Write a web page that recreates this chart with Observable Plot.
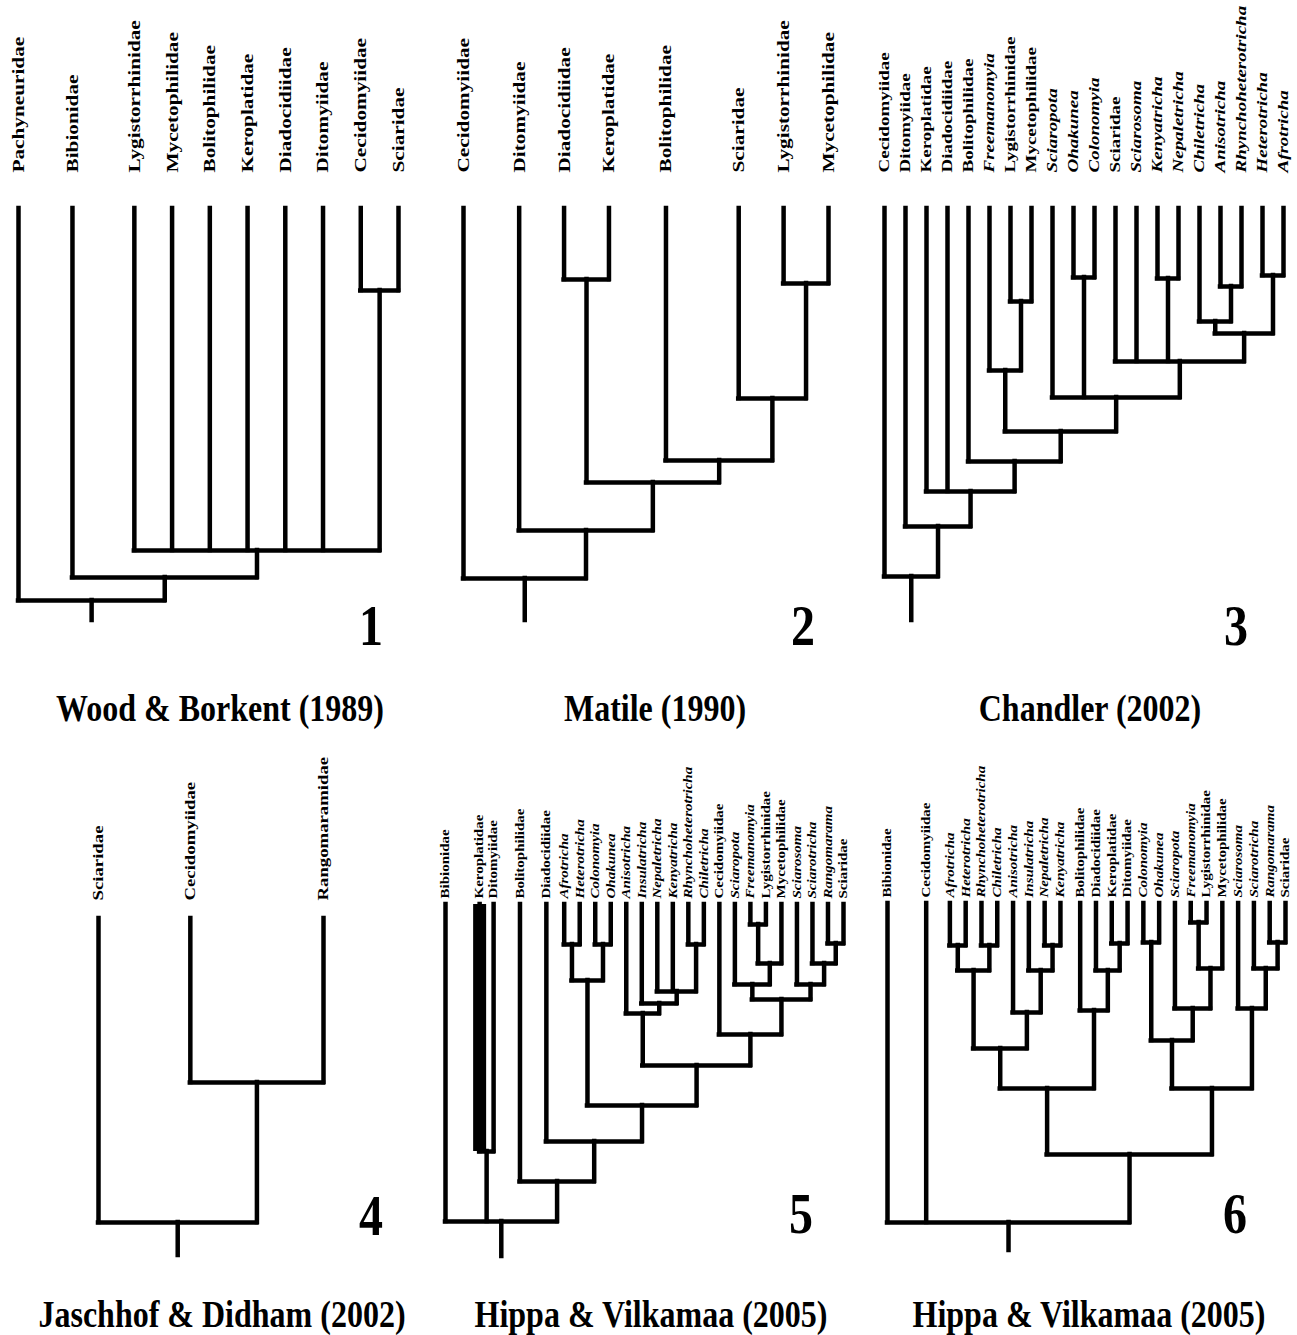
<!DOCTYPE html>
<html><head><meta charset="utf-8">
<script src="https://cdn.jsdelivr.net/npm/d3@7"></script>
<script src="https://cdn.jsdelivr.net/npm/@observablehq/plot@0.6"></script>
<style>
body{margin:0;background:#fff;}
#fig{position:relative;width:1297px;height:1335px;overflow:hidden;font-family:"Liberation Serif","Times New Roman",serif;color:#000;}
.panel{position:absolute;}
.cap{position:absolute;font-weight:bold;font-size:32px;line-height:1;white-space:nowrap;transform:translateX(-50%) scaleY(1.2);transform-origin:50% 84%;}
.num{position:absolute;font-weight:bold;font-size:48px;line-height:1;transform:scaleY(1.2);transform-origin:50% 84%;}
</style></head><body><div id="fig"></div>
<script>
// ================= DATA =================
// Each clade: [id, depth below the leaf tips, children]; listed children-first.
const leaves1 = ["Pachyneuridae","Bibionidae","Lygistorrhinidae","Mycetophilidae","Bolitophilidae","Keroplatidae","Diadocidiidae","Ditomyiidae","Cecidomyiidae","Sciaridae"];
const clades1 = [
  ["CS", 82, ["Cecidomyiidae","Sciaridae"]],
  ["P", 342, ["Lygistorrhinidae","Mycetophilidae","Bolitophilidae","Keroplatidae","Diadocidiidae","Ditomyiidae","CS"]],
  ["BP", 369, ["Bibionidae","P"]],
  ["root", 392, ["Pachyneuridae","BP"]]
];
const stem1 = 412;

const leaves2 = ["Cecidomyiidae","Ditomyiidae","Diadocidiidae","Keroplatidae","Bolitophilidae","Sciaridae","Lygistorrhinidae","Mycetophilidae"];
const clades2 = [
  ["DK", 71, ["Diadocidiidae","Keroplatidae"]],
  ["LM", 75, ["Lygistorrhinidae","Mycetophilidae"]],
  ["SLM", 190, ["Sciaridae","LM"]],
  ["BS", 252, ["Bolitophilidae","SLM"]],
  ["DKB", 274, ["DK","BS"]],
  ["D", 322, ["Ditomyiidae","DKB"]],
  ["root", 370, ["Cecidomyiidae","D"]]
];
const stem2 = 412;

const leaves3 = ["Cecidomyiidae","Ditomyiidae","Keroplatidae","Diadocidiidae","Bolitophilidae","Freemanomyia","Lygistorrhinidae","Mycetophilidae","Sciaropota","Ohakunea","Colonomyia","Sciaridae","Sciarosoma","Kenyatricha","Nepaletricha","Chiletricha","Anisotricha","Rhynchoheterotricha","Heterotricha","Afrotricha"];
const clades3 = [
  ["OC", 69, ["Ohakunea","Colonomyia"]],
  ["LM", 93, ["Lygistorrhinidae","Mycetophilidae"]],
  ["KN", 70, ["Kenyatricha","Nepaletricha"]],
  ["AR", 78, ["Anisotricha","Rhynchoheterotricha"]],
  ["HA", 67, ["Heterotricha","Afrotricha"]],
  ["CAR", 113, ["Chiletricha","AR"]],
  ["Y", 125, ["CAR","HA"]],
  ["X", 153, ["Sciaridae","Sciarosoma","KN","Y"]],
  ["FLM", 162, ["Freemanomyia","LM"]],
  ["SOX", 189, ["Sciaropota","OC","X"]],
  ["M", 223, ["FLM","SOX"]],
  ["B", 253, ["Bolitophilidae","M"]],
  ["KD", 283, ["Keroplatidae","Diadocidiidae","B"]],
  ["D", 318, ["Ditomyiidae","KD"]],
  ["root", 368, ["Cecidomyiidae","D"]]
];
const stem3 = 412;

const leaves4 = ["Sciaridae","Cecidomyiidae","Rangomaramidae"];
const clades4 = [
  ["CR", 164, ["Cecidomyiidae","Rangomaramidae"]],
  ["root", 304, ["Sciaridae","CR"]]
];
const stem4 = 337;

const leaves5 = ["Bibionidae","Keroplatidae","Ditomyiidae","Bolitophilidae","Diadocidiidae","Afrotricha","Heterotricha","Colonomyia","Ohakunea","Anisotricha","Insulatricha","Nepaletricha","Kenyatricha","Rhynchoheterotricha","Chiletricha","Cecidomyiidae","Sciaropota","Freemanomyia","Lygistorrhinidae","Mycetophilidae","Sciarosoma","Sciarotricha","Rangomarama","Sciaridae"];
const clades5 = [
  ["AH", 40, ["Afrotricha","Heterotricha"]],
  ["CO", 40, ["Colonomyia","Ohakunea"]],
  ["AHCO", 76, ["AH","CO"]],
  ["RC", 40, ["Rhynchoheterotricha","Chiletricha"]],
  ["NKRC", 87, ["Nepaletricha","Kenyatricha","RC"]],
  ["INK", 99, ["Insulatricha","NKRC"]],
  ["AINK", 109, ["Anisotricha","INK"]],
  ["FL", 20, ["Freemanomyia","Lygistorrhinidae"]],
  ["FLM", 59, ["FL","Mycetophilidae"]],
  ["SFLM", 80, ["Sciaropota","FLM"]],
  ["RS", 39, ["Rangomarama","Sciaridae"]],
  ["SRS", 59, ["Sciarotricha","RS"]],
  ["SSRS", 80, ["Sciarosoma","SRS"]],
  ["SS", 95, ["SFLM","SSRS"]],
  ["CSS", 130, ["Cecidomyiidae","SS"]],
  ["AC", 161, ["AINK","CSS"]],
  ["AHAC", 201, ["AHCO","AC"]],
  ["D", 237, ["Diadocidiidae","AHAC"]],
  ["B", 277, ["Bolitophilidae","D"]],
  ["KD", 247, ["Keroplatidae","Ditomyiidae"]],
  ["root", 317, ["Bibionidae","KD","B"]]
];
const stem5 = 352;
const thickLeaves5 = ["Keroplatidae"];

const leaves6 = ["Bibionidae","Cecidomyiidae","Afrotricha","Heterotricha","Rhynchoheterotricha","Chiletricha","Anisotricha","Insulatricha","Nepaletricha","Kenyatricha","Bolitophilidae","Diadocidiidae","Keroplatidae","Ditomyiidae","Colonomyia","Ohakunea","Sciaropota","Freemanomyia","Lygistorrhinidae","Mycetophilidae","Sciarosoma","Sciarotricha","Rangomarama","Sciaridae"];
const clades6 = [
  ["AH", 42, ["Afrotricha","Heterotricha"]],
  ["RC", 42, ["Rhynchoheterotricha","Chiletricha"]],
  ["AHRC", 67, ["AH","RC"]],
  ["NK", 42, ["Nepaletricha","Kenyatricha"]],
  ["INK", 67, ["Insulatricha","NK"]],
  ["AINK", 109, ["Anisotricha","INK"]],
  ["L1", 145, ["AHRC","AINK"]],
  ["KD", 40, ["Keroplatidae","Ditomyiidae"]],
  ["DKD", 67, ["Diadocidiidae","KD"]],
  ["BDKD", 107, ["Bolitophilidae","DKD"]],
  ["L", 185, ["L1","BDKD"]],
  ["CO", 39, ["Colonomyia","Ohakunea"]],
  ["FL", 19, ["Freemanomyia","Lygistorrhinidae"]],
  ["FLM", 65, ["FL","Mycetophilidae"]],
  ["SFLM", 105, ["Sciaropota","FLM"]],
  ["R1", 137, ["CO","SFLM"]],
  ["RS", 39, ["Rangomarama","Sciaridae"]],
  ["SRS", 65, ["Sciarotricha","RS"]],
  ["SSRS", 105, ["Sciarosoma","SRS"]],
  ["R", 185, ["R1","SSRS"]],
  ["LR", 251, ["L","R"]],
  ["root", 319, ["Bibionidae","Cecidomyiidae","LR"]]
];
const stem6 = 347;

const captions = ["Wood & Borkent (1989)","Matile (1990)","Chandler (2002)","Jaschhof & Didham (2002)","Hippa & Vilkamaa (2005)","Hippa & Vilkamaa (2005)"];
const panelNumbers = ["1","2","3","4","5","6"];

// ================= LAYOUT =================
const FONT = '"Liberation Serif", "Times New Roman", serif';
const STRETCH = 1.25;   // the figure's lettering is drawn taller than wide
const LINE = 4.5;
const W = 432;
// extraSpace: additional horizontal room (in leaf-slot units) after a leaf
const layouts = [
  {left:0,   top:0,   height:660, tipY:208, ml:18, mr:34, font:17,   gap:36, cap:[220,694],  num:[359,605],
   extraSpace:{Pachyneuridae:0.43, Bibionidae:0.64}},
  {left:432, top:0,   height:660, tipY:208, ml:31, mr:36, font:17,   gap:36, cap:[655,694],  num:[791,605],
   extraSpace:{Cecidomyiidae:0.24, Keroplatidae:0.27, Bolitophilidae:0.62}},
  {left:865, top:0,   height:660, tipY:208, ml:19, mr:14, font:15.2, gap:36, cap:[1090,694], num:[1224,605],
   extraSpace:{}},
  {left:0,   top:680, height:600, tipY:918, ml:98, mr:109,font:15,   gap:18, cap:[222,1300], num:[359,1195],
   extraSpace:{Cecidomyiidae:0.45}},
  {left:432, top:680, height:600, tipY:904, ml:13, mr:21, font:12,   gap:6,  cap:[651,1300], num:[789,1193],
   extraSpace:{Bibionidae:1.2, Keroplatidae:-0.1, Ditomyiidae:0.7, Bolitophilidae:0.7, Diadocidiidae:0.15}},
  {left:865, top:680, height:600, tipY:903, ml:22, mr:12, font:12,   gap:6,  cap:[1089,1300],num:[1223,1193],
   extraSpace:{Bibionidae:1.45, Cecidomyiidae:0.5, Kenyatricha:0.25}}
];

function buildTree(leaves, clades, stem, extra) {
  let acc = 0;
  const pos = new Map(leaves.map((d, i) => { const v = i + acc; acc += extra[d] || 0; return [d, v]; }));
  const depth = new Map(leaves.map(d => [d, 0]));
  const parent = new Map();
  const bars = [];
  for (const [id, dep, kids] of clades) {
    const xs = kids.map(k => pos.get(k));
    const lo = Math.min(...xs), hi = Math.max(...xs);
    pos.set(id, (lo + hi) / 2);
    depth.set(id, dep);
    kids.forEach(k => parent.set(k, id));
    bars.push({id, x1: lo, x2: hi, y: dep});
  }
  const stems = [...pos.keys()].map(id => ({
    id, x: pos.get(id), y1: depth.get(id),
    y2: parent.has(id) ? depth.get(parent.get(id)) : stem
  }));
  return {pos, stems, bars, xMax: pos.get(leaves[leaves.length - 1])};
}

function drawPanel(leaves, clades, stem, L, thick = []) {
  const {pos, stems, bars, xMax} = buildTree(leaves, clades, stem, L.extraSpace);
  const isFamily = d => /idae$/.test(d);
  const mt = L.tipY - L.top;
  const textOpts = {
    x: d => pos.get(d), y: () => 0, text: d => d, rotate: -90,
    textAnchor: "start", lineAnchor: "middle", dy: -L.gap,
    fontSize: L.font, fontWeight: "bold", fontFamily: FONT, fill: "black"
  };
  const svg = Plot.plot({
    width: W, height: L.height,
    marginTop: mt, marginBottom: L.height - mt - stem,
    marginLeft: L.ml, marginRight: L.mr,
    x: {domain: [0, xMax], axis: null},
    y: {domain: [0, stem], reverse: true, axis: null},
    style: {background: "transparent", overflow: "visible"},
    marks: [
      Plot.ruleX(stems.filter(d => thick.includes(d.id)), {x: "x", y1: "y1", y2: "y2", stroke: "black", strokeWidth: 13}),
      Plot.ruleX(stems, {x: "x", y1: "y1", y2: "y2", stroke: "black", strokeWidth: LINE, strokeLinecap: "square"}),
      Plot.ruleY(bars, {y: "y", x1: "x1", x2: "x2", stroke: "black", strokeWidth: LINE, strokeLinecap: "square"}),
      Plot.text(leaves.filter(isFamily), textOpts),
      Plot.text(leaves.filter(d => !isFamily(d)), {...textOpts, fontStyle: "italic"})
    ]
  });
  svg.querySelectorAll('g[aria-label="text"] text').forEach(t => {
    t.setAttribute("transform", t.getAttribute("transform") + ` scale(${STRETCH},1)`);
  });
  const div = document.createElement("div");
  div.className = "panel";
  div.style.left = L.left + "px";
  div.style.top = L.top + "px";
  div.appendChild(svg);
  return div;
}

const fig = document.getElementById("fig");
const panels = [
  [leaves1, clades1, stem1, []],
  [leaves2, clades2, stem2, []],
  [leaves3, clades3, stem3, []],
  [leaves4, clades4, stem4, []],
  [leaves5, clades5, stem5, thickLeaves5],
  [leaves6, clades6, stem6, []]
];
panels.forEach(([lv, cl, st, th], i) => {
  const L = layouts[i];
  fig.appendChild(drawPanel(lv, cl, st, L, th));
  const cap = document.createElement("div");
  cap.className = "cap";
  cap.textContent = captions[i];
  cap.style.left = L.cap[0] + "px";
  cap.style.top = L.cap[1] + "px";
  fig.appendChild(cap);
  const num = document.createElement("div");
  num.className = "num";
  num.textContent = panelNumbers[i];
  num.style.left = L.num[0] + "px";
  num.style.top = L.num[1] + "px";
  fig.appendChild(num);
});
</script></body></html>
